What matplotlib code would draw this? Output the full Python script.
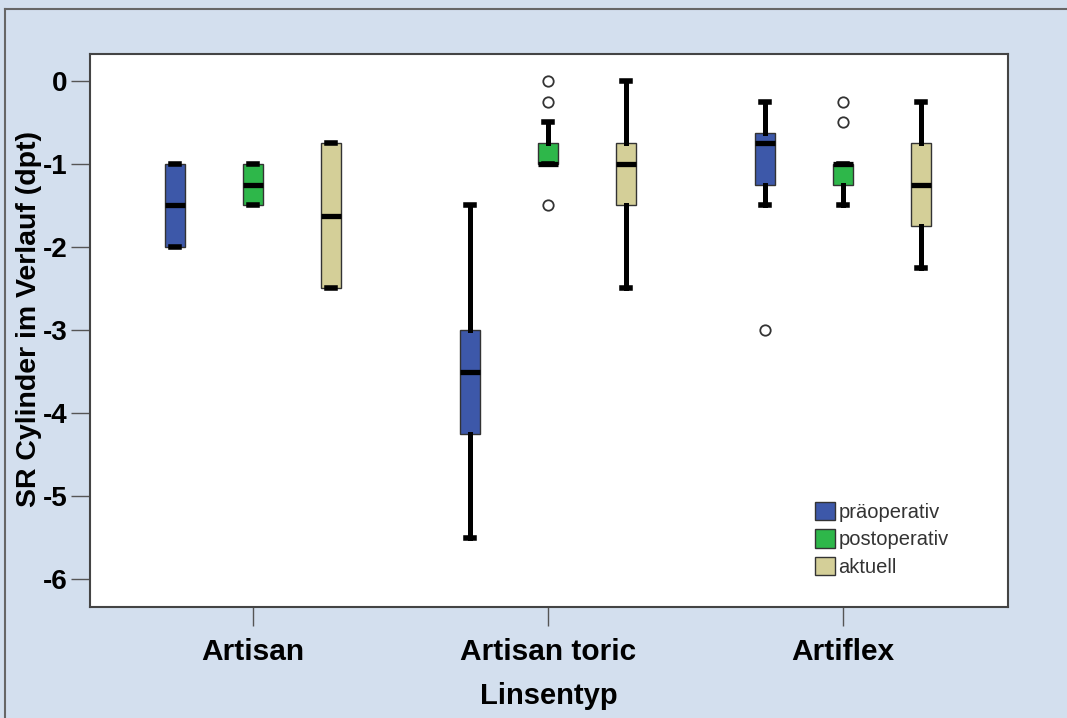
import matplotlib
matplotlib.use('Agg')
import matplotlib.pyplot as plt
from matplotlib.patches import Patch
from matplotlib.lines import Line2D

plt.rcParams['font.family'] = ['Liberation Sans', 'DejaVu Sans']
plt.rcParams['axes.unicode_minus'] = False

groups = ['Artisan', 'Artisan toric', 'Artiflex']
series = ['präoperativ', 'postoperativ', 'aktuell']
colors = ['#3d58a9', '#2eb74a', '#d4cf98']

# one list per series, one value per lens type
medians = [[-1.5, -3.5, -0.75], [-1.25, -1.0, -1.0], [-1.625, -1.0, -1.25]]
q1 = [[-2.0, -4.25, -1.25], [-1.5, -1.0, -1.25], [-2.5, -1.5, -1.75]]
q3 = [[-1.0, -3.0, -0.625], [-1.0, -0.75, -1.0], [-0.75, -0.75, -0.75]]
whis_lo = [[-2.0, -5.5, -1.5], [-1.5, -1.0, -1.5], [-2.5, -2.5, -2.25]]
whis_hi = [[-1.0, -1.5, -0.25], [-1.0, -0.5, -1.0], [-0.75, 0.0, -0.25]]
outliers = [[[], [], [-3.0]], [[], [0.0, -0.25, -1.5], [-0.25, -0.5]], [[], [], []]]
yticks = [0, -1, -2, -3, -4, -5, -6]

fig = plt.figure(figsize=(10.67, 7.18), dpi=100, facecolor='#d3dfee')
ax = fig.add_axes([90 / 1067, 111 / 718, 918 / 1067, 553 / 718])

offset = 0.264
for j in range(3):
    stats = []
    for i in range(3):
        stats.append(dict(med=medians[j][i], q1=q1[j][i], q3=q3[j][i],
                          whislo=whis_lo[j][i], whishi=whis_hi[j][i],
                          fliers=outliers[j][i]))
    ax.bxp(stats, positions=[i + (j - 1) * offset for i in range(3)],
           widths=0.068, capwidths=0.026, patch_artist=True, manage_ticks=False,
           boxprops=dict(facecolor=colors[j], edgecolor='#333333', linewidth=1),
           medianprops=dict(color='black', linewidth=3.8, solid_capstyle='butt'),
           whiskerprops=dict(color='black', linewidth=3.6),
           capprops=dict(color='black', linewidth=4),
           flierprops=dict(marker='o', markerfacecolor='white', markeredgecolor='#333333',
                           markersize=7.5, markeredgewidth=1.3))

ax.set_xlim(-0.553, 2.559)
ax.set_ylim(-6.337, 0.325)
ax.set_xticks(range(3))
ax.set_xticklabels(groups, fontsize=21.5, fontweight='bold')
ax.set_yticks(yticks)
ax.set_yticklabels([str(t) for t in yticks], fontsize=20, fontweight='bold')
ax.tick_params(axis='both', length=14, width=1, color='#555555')
ax.tick_params(axis='y', pad=2)
ax.tick_params(axis='x', pad=8)
for s in ax.spines.values():
    s.set_color('#444444')
    s.set_linewidth(1.5)

ax.set_xlabel('Linsentyp', fontsize=21, fontweight='bold', labelpad=12)
ax.set_ylabel('SR Cylinder im Verlauf (dpt)', fontsize=20.5, fontweight='bold')
ax.yaxis.set_label_coords(-0.0523, 0.521)

handles = [Patch(facecolor=c, edgecolor='#333333', linewidth=1) for c in colors]
ax.legend(handles, series, loc='upper left', bbox_to_anchor=(0.79, 0.19), frameon=False,
          fontsize=14.5, handlelength=1.0, handleheight=1.0, handletextpad=0.15,
          labelspacing=0.38, borderpad=0, borderaxespad=0, labelcolor='#333333')

fig.add_artist(Line2D([5 / 1067, 5 / 1067], [0, 1 - 9 / 718], transform=fig.transFigure,
                      color='#666666', linewidth=1.5))
fig.add_artist(Line2D([5 / 1067, 1], [1 - 9 / 718, 1 - 9 / 718], transform=fig.transFigure,
                      color='#666666', linewidth=1.5))

fig.savefig('out.png', dpi=100, facecolor=fig.get_facecolor())
